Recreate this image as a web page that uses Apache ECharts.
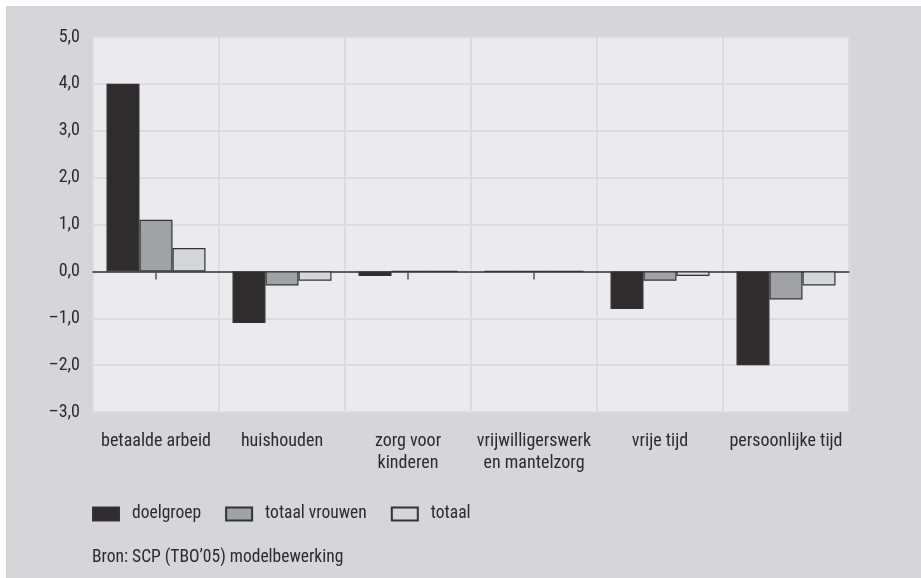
<!DOCTYPE html>
<html>
<head>
<meta charset="utf-8">
<script src="https://cdn.jsdelivr.net/npm/echarts@6/dist/echarts.min.js"></script>
<style>
html,body{margin:0;padding:0;background:#ffffff;}
#chart{width:921px;height:578px;}
</style>
</head>
<body>
<div id="chart"></div>
<script>
var categories = ['betaalde arbeid', 'huishouden', 'zorg voor\nkinderen', 'vrijwilligerswerk\nen mantelzorg', 'vrije tijd', 'persoonlijke tijd'];
var seriesNames = ['doelgroep', 'totaal vrouwen', 'totaal'];
var doelgroep = [4.0, -1.1, -0.1, 0.0, -0.8, -2.0];
var totaalVrouwen = [1.1, -0.3, 0.0, 0.0, -0.2, -0.6];
var totaal = [0.5, -0.2, 0.0, 0.0, -0.1, -0.3];
var yTicks = [-3, -2, -1, 0, 1, 2, 3, 4, 5];
var sourceText = 'Bron: SCP (TBO\u201905) modelbewerking';

var FONT = '"Liberation Sans Narrow", "Roboto Condensed", "Liberation Sans", sans-serif';
var colors = ['#2e2c2d', '#a1a2a4', '#d5d6d8'];
var seriesData = [doelgroep, totaalVrouwen, totaal];

var chart = echarts.init(document.getElementById('chart'), null, {renderer: 'canvas'});
var option = {
  animation: false,
  textStyle: {fontFamily: FONT},
  graphic: [
    {type: 'rect', z: -10, shape: {x: 6, y: 6, width: 915, height: 572}, style: {fill: '#d6d6d8'}},
    {type: 'text', left: 92, top: 549, style: {text: sourceText, fontFamily: FONT, fontSize: 17.5, fill: '#2b2b2b'}}
  ],
  grid: {
    left: 93, top: 37, width: 756, height: 375,
    show: true, backgroundColor: '#ebebed', borderColor: '#dcdcde', borderWidth: 2,
    containLabel: false
  },
  legend: {
    left: 92, top: 505, padding: 0,
    icon: 'rect',
    itemWidth: 26, itemHeight: 13, itemGap: 24,
    textStyle: {fontFamily: FONT, fontSize: 17.5, lineHeight: 18, color: '#2b2b2b', padding: [0, 0, 0, 8]},
    data: seriesNames
  },
  xAxis: [
    {
      type: 'category', data: categories, position: 'bottom',
      axisLine: {show: false, onZero: false},
      axisTick: {show: false},
      splitLine: {show: true, interval: 0, lineStyle: {color: '#dcdcde', width: 2}},
      axisLabel: {interval: 0, margin: 18, fontFamily: FONT, fontSize: 18, color: '#2b2b2b', lineHeight: 22}
    },
    {
      type: 'category', data: categories, position: 'top',
      axisLine: {show: true, onZero: true, lineStyle: {color: '#333333', width: 1.5}},
      axisTick: {show: true, inside: true, alignWithLabel: true, length: 8, lineStyle: {color: '#555555', width: 1.5}},
      axisLabel: {show: false},
      splitLine: {show: false}
    }
  ],
  yAxis: {
    type: 'value', min: -3, max: 5, interval: 1,
    axisLine: {show: false}, axisTick: {show: false},
    splitLine: {show: true, lineStyle: {color: '#dcdcde', width: 2}},
    axisLabel: {
      margin: 13, fontFamily: FONT, fontSize: 18, color: '#2b2b2b',
      customValues: yTicks,
      formatter: function (v) { return v.toFixed(1).replace('.', ',').replace('-', '\u2013'); }
    }
  },
  series: seriesNames.map(function (name, i) {
    return {
      name: name, type: 'bar', xAxisIndex: 0,
      data: seriesData[i],
      barWidth: 33, barGap: '0%',
      itemStyle: {color: colors[i], borderColor: '#333333', borderWidth: 1.2}
    };
  })
};
chart.setOption(option);
</script>
</body>
</html>
